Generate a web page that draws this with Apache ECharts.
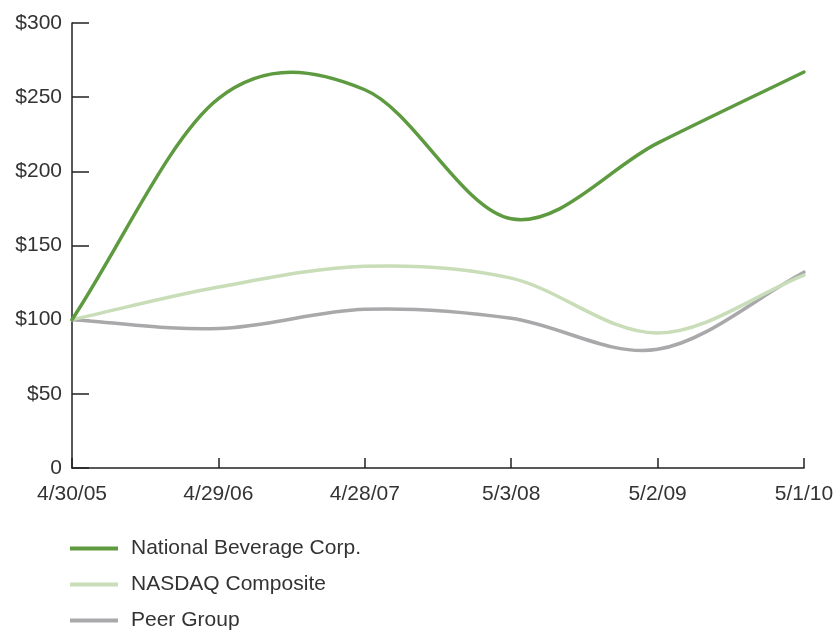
<!DOCTYPE html>
<html><head><meta charset="utf-8">
<script src="https://cdn.jsdelivr.net/npm/echarts@6/dist/echarts.min.js"></script>
<style>html,body{margin:0;padding:0;background:#fff}#c{width:837px;height:630px}</style>
</head><body><div id="c"></div>
<script>
const categories = ['4/30/05','4/29/06','4/28/07','5/3/08','5/2/09','5/1/10'];
const nationalBeverage = [100, 249, 255, 168, 219, 267];
const nasdaq = [100, 122, 136, 128, 91, 130];
const peerGroup = [100, 94, 107, 101, 80, 132];
const yTicks = [0, 50, 100, 150, 200, 250, 300];

const chart = echarts.init(document.getElementById('c'));
const font = 'Liberation Sans, Arial, sans-serif';

// Catmull-Rom spline through the data points, positioned via the chart's axes
function splineSeries(name, values, color, z) {
  return {
    name: name, type: 'custom', z: z, clip: false,
    itemStyle: {color: color},
    encode: {x: 0, y: 1},
    data: values.map((v, i) => [i, v]),
    renderItem: function (params, api) {
      if (params.dataIndex !== 0) return null;
      const pts = values.map((v, i) => api.coord([i, v]));
      const n = pts.length;
      const get = (k) => {
        if (k < 0) return [2 * pts[0][0] - pts[1][0], 2 * pts[0][1] - pts[1][1]];
        if (k > n - 1) return [2 * pts[n - 1][0] - pts[n - 2][0], 2 * pts[n - 1][1] - pts[n - 2][1]];
        return pts[k];
      };
      let d = 'M' + pts[0][0] + ' ' + pts[0][1];
      for (let i = 0; i < n - 1; i++) {
        const p0 = get(i - 1), p1 = get(i), p2 = get(i + 1), p3 = get(i + 2);
        const c1x = p1[0] + (p2[0] - p0[0]) / 6, c1y = p1[1] + (p2[1] - p0[1]) / 6;
        const c2x = p2[0] - (p3[0] - p1[0]) / 6, c2y = p2[1] - (p3[1] - p1[1]) / 6;
        d += ' C' + c1x + ' ' + c1y + ' ' + c2x + ' ' + c2y + ' ' + p2[0] + ' ' + p2[1];
      }
      return {
        type: 'path',
        shape: {pathData: d},
        style: {fill: null, stroke: color, lineWidth: 3.5, lineCap: 'round', lineJoin: 'round'}
      };
    }
  };
}

chart.setOption({
  animation: false,
  grid: {left: 72, right: 33, top: 23, bottom: 162, containLabel: false},
  legend: {
    orient: 'vertical', left: 70, top: 538, height: 150, itemGap: 15, padding: 0,
    itemWidth: 48, itemHeight: 4, icon: 'rect', itemStyle: {borderWidth: 0},
    textStyle: {fontFamily: font, fontSize: 21, color: '#333', padding: [0, 0, 0, 8]},
    data: ['National Beverage Corp.', 'NASDAQ Composite', 'Peer Group']
  },
  xAxis: {
    type: 'category', data: categories, boundaryGap: false,
    axisLine: {lineStyle: {color: '#222', width: 1.5}},
    axisTick: {inside: true, length: 10, lineStyle: {color: '#222', width: 1.5}},
    axisLabel: {fontFamily: font, fontSize: 21, color: '#333', margin: 16}
  },
  yAxis: {
    type: 'value', min: 0, max: 300, interval: 50,
    axisLine: {show: true, lineStyle: {color: '#222', width: 1.5}},
    axisTick: {show: true, inside: true, length: 17, lineStyle: {color: '#222', width: 1.5}},
    splitLine: {show: false},
    axisLabel: {fontFamily: font, fontSize: 21, color: '#333', margin: 10,
      formatter: v => yTicks.includes(v) ? (v === 0 ? '0' : '$' + v) : ''}
  },
  series: [
    splineSeries('Peer Group', peerGroup, '#a9a9ab', 2),
    splineSeries('NASDAQ Composite', nasdaq, '#c8ddb8', 3),
    splineSeries('National Beverage Corp.', nationalBeverage, '#5e9a3f', 4)
  ]
});
</script></body></html>
